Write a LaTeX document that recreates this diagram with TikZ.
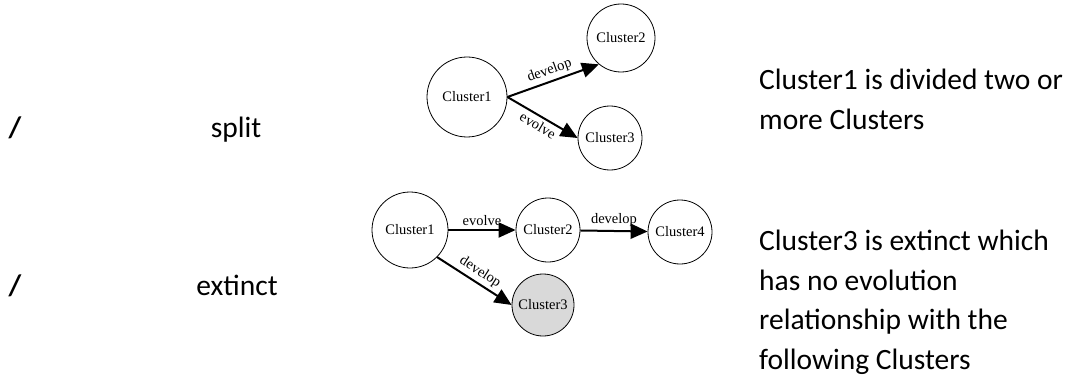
\documentclass[tikz,border=0pt]{standalone}
\usepackage{fontspec}
\setmainfont{Liberation Serif}
\newfontfamily\calibri{Carlito}
\usetikzlibrary{arrows.meta}

\begin{document}
\begin{tikzpicture}[x=1pt,y=-1pt]
\tikzset{cl/.style={draw,circle,inner sep=0pt,line width=0.8pt,font=\fontsize{14.5}{16}\selectfont},
    ev/.style={line width=2pt,-{Triangle[length=17pt,width=15pt]}},
    lbl/.style={font=\fontsize{14.5}{16}\selectfont,inner sep=3pt},
    txt/.style={font=\calibri\fontsize{29.5}{39.5}\selectfont,inner sep=0pt,align=left}}
\useasboundingbox (0,0) rectangle (1070,377);
% split
\node[txt,anchor=base,font=\calibri\bfseries\fontsize{29.5}{39.5}\selectfont] (s1) at (15,138) {/};
\node[txt,anchor=base] (s2) at (236,138) {split};
\node[cl,minimum size=80pt] (a1) at (467,97) {Cluster1};
\node[cl,minimum size=68pt] (a2) at (621,38) {Cluster2};
\node[cl,minimum size=64pt] (a3) at (610,138) {Cluster3};
\draw[ev] (a1.east) -- node[lbl,sloped,above]{develop} (a2.230);
\draw[ev] (a1.east) -- node[lbl,sloped,below]{evolve} (a3.west);
\node[txt,anchor=base west] (s3) at (759,129) {Cluster1 is divided two or\\more Clusters};
% extinct
\node[txt,anchor=base,font=\calibri\bfseries\fontsize{29.5}{39.5}\selectfont] (e1) at (15,295) {/};
\node[txt,anchor=base] (e2) at (237,295) {extinct};
\node[cl,minimum size=76pt] (b1) at (410,230) {Cluster1};
\node[cl,minimum size=64pt] (b2) at (548,230) {Cluster2};
\node[cl,minimum size=64pt] (b4) at (680,232) {Cluster4};
\node[cl,minimum size=62pt,fill=gray!30] (b3) at (543,305) {Cluster3};
\draw[ev] (b1) -- node[lbl,above]{evolve} (b2);
\draw[ev] (b2) -- node[lbl,above]{develop} (b4);
\draw[ev] (b1.-45) -- node[lbl,sloped,above]{develop} (b3.west);
\node[txt,anchor=base west] (e3) at (759,369) {Cluster3 is extinct which\\has no evolution\\relationship with the\\following Clusters};
\end{tikzpicture}
\end{document}
